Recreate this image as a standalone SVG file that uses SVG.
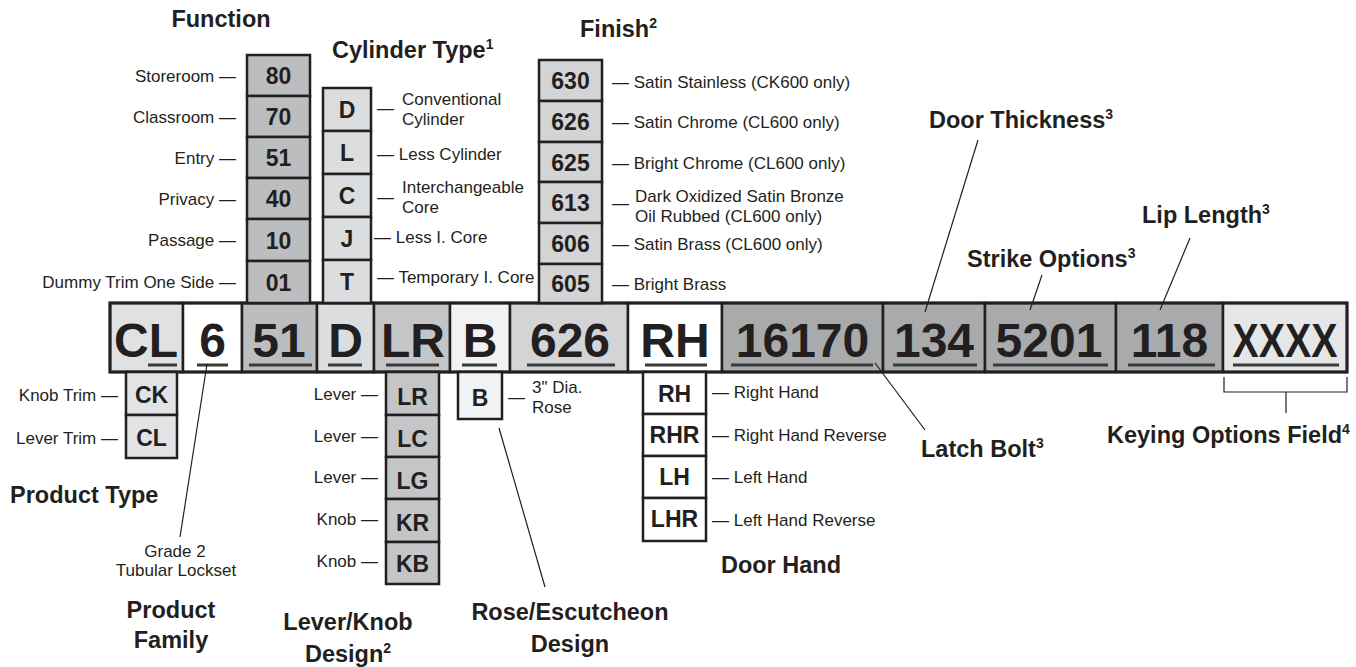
<svg xmlns="http://www.w3.org/2000/svg" width="1356" height="667" viewBox="0 0 1356 667">
<style>
text{font-family:"Liberation Sans",Arial,sans-serif;fill:#231f20}
.t{font-size:23.5px;font-weight:bold}
.lbl{font-size:17px}
.num{font-size:23px;font-weight:bold;text-anchor:middle}
.big{font-size:48px;font-weight:bold;text-anchor:middle}
.cell{stroke:#231f20;stroke-width:2.5}
.ul{fill:#3a3a3a}
.ln{stroke:#231f20;stroke-width:1.2;fill:none}
.sup{font-size:14px}
.end{text-anchor:end}
.mid{text-anchor:middle}
</style>
<rect width="1356" height="667" fill="#fff"/>

<g id="main-bar">
<rect class="cell" x="110" y="303" width="73" height="69" fill="#e0e1e2"/>
<rect class="cell" x="183" y="303" width="59" height="69" fill="#ffffff"/>
<rect class="cell" x="242" y="303" width="75" height="69" fill="#bcbdbf"/>
<rect class="cell" x="317" y="303" width="57" height="69" fill="#dcdddf"/>
<rect class="cell" x="374" y="303" width="76" height="69" fill="#c4c5c7"/>
<rect class="cell" x="450" y="303" width="60" height="69" fill="#f1f2f3"/>
<rect class="cell" x="510" y="303" width="118" height="69" fill="#d3d4d6"/>
<rect class="cell" x="628" y="303" width="94" height="69" fill="#ffffff"/>
<rect class="cell" x="722" y="303" width="161" height="69" fill="#a9aaac"/>
<rect class="cell" x="883" y="303" width="102" height="69" fill="#a9aaac"/>
<rect class="cell" x="985" y="303" width="131" height="69" fill="#a9aaac"/>
<rect class="cell" x="1116" y="303" width="107" height="69" fill="#a9aaac"/>
<rect class="cell" x="1223" y="303" width="124" height="69" fill="#e5e6e7"/>
<rect x="110" y="303" width="1237" height="69" fill="none" stroke="#231f20" stroke-width="3"/>
<text class="big" x="146" y="357">CL</text>
<text class="big" x="212.5" y="357">6</text>
<text class="big" x="279" y="357">51</text>
<text class="big" x="345.5" y="357">D</text>
<text class="big" x="413" y="357">LR</text>
<text class="big" x="480" y="357">B</text>
<text class="big" x="570" y="357">626</text>
<text class="big" x="675" y="357">RH</text>
<text class="big" x="802.5" y="357">16170</text>
<text class="big" x="934" y="357">134</text>
<text class="big" x="1049" y="357">5201</text>
<text class="big" x="1169.5" y="357">118</text>
<text class="big" transform="translate(1285,357) scale(0.82,1)" x="0" y="0">XXXX</text>
<rect class="ul" x="148" y="363.5" width="29" height="3"/>
<rect class="ul" x="197" y="363.5" width="31" height="3"/>
<rect class="ul" x="249" y="363.5" width="63" height="3"/>
<rect class="ul" x="328" y="363.5" width="34" height="3"/>
<rect class="ul" x="386" y="363.5" width="53" height="3"/>
<rect class="ul" x="462" y="363.5" width="35" height="3"/>
<rect class="ul" x="527" y="363.5" width="88" height="3"/>
<rect class="ul" x="645" y="363.5" width="62" height="3"/>
<rect class="ul" x="731" y="363.5" width="142" height="3"/>
<rect class="ul" x="893" y="363.5" width="84" height="3"/>
<rect class="ul" x="993" y="363.5" width="115" height="3"/>
<rect class="ul" x="1128" y="363.5" width="87" height="3"/>
<rect class="ul" x="1233" y="363.5" width="106" height="3"/>
</g>

<g id="function">
<text class="t mid" x="221" y="27">Function</text>
<rect class="cell" x="247" y="55" width="63" height="41" fill="#bcbdbf"/>
<rect class="cell" x="247" y="96" width="63" height="41" fill="#bcbdbf"/>
<rect class="cell" x="247" y="137" width="63" height="41" fill="#bcbdbf"/>
<rect class="cell" x="247" y="178" width="63" height="41" fill="#bcbdbf"/>
<rect class="cell" x="247" y="219" width="63" height="42" fill="#bcbdbf"/>
<rect class="cell" x="247" y="261" width="63" height="42" fill="#bcbdbf"/>
<text class="num" x="278.5" y="84">80</text>
<text class="num" x="278.5" y="125">70</text>
<text class="num" x="278.5" y="166">51</text>
<text class="num" x="278.5" y="207">40</text>
<text class="num" x="278.5" y="248.5">10</text>
<text class="num" x="278.5" y="290.5">01</text>
<text class="lbl end" x="236" y="82">Storeroom —</text>
<text class="lbl end" x="236" y="123">Classroom —</text>
<text class="lbl end" x="236" y="164">Entry —</text>
<text class="lbl end" x="236" y="205">Privacy —</text>
<text class="lbl end" x="236" y="246">Passage —</text>
<text class="lbl end" x="236" y="288">Dummy Trim One Side —</text>
</g>

<g id="cylinder-type">
<text class="t" x="332" y="58">Cylinder Type<tspan class="sup" dy="-9">1</tspan></text>
<rect class="cell" x="323" y="88" width="48" height="43" fill="#dcdddf"/>
<rect class="cell" x="323" y="131" width="48" height="43" fill="#dcdddf"/>
<rect class="cell" x="323" y="174" width="48" height="43" fill="#dcdddf"/>
<rect class="cell" x="323" y="217" width="48" height="43" fill="#dcdddf"/>
<rect class="cell" x="323" y="260" width="48" height="43" fill="#dcdddf"/>
<text class="num" x="347" y="118">D</text>
<text class="num" x="347" y="161">L</text>
<text class="num" x="347" y="204">C</text>
<text class="num" x="347" y="247">J</text>
<text class="num" x="347" y="290">T</text>
<text class="lbl" x="377" y="114">—</text>
<text class="lbl" x="402" y="105">Conventional</text>
<text class="lbl" x="402" y="125">Cylinder</text>
<text class="lbl" x="377" y="160">— Less Cylinder</text>
<text class="lbl" x="377" y="203">—</text>
<text class="lbl" x="402" y="193">Interchangeable</text>
<text class="lbl" x="402" y="213">Core</text>
<text class="lbl" x="374" y="243">— Less I. Core</text>
<text class="lbl" x="377" y="283">— Temporary I. Core</text>
</g>

<g id="finish">
<text class="t" x="580" y="37">Finish<tspan class="sup" dy="-9">2</tspan></text>
<rect class="cell" x="539" y="60" width="63" height="41" fill="#d3d4d6"/>
<rect class="cell" x="539" y="101" width="63" height="41" fill="#d3d4d6"/>
<rect class="cell" x="539" y="142" width="63" height="40" fill="#d3d4d6"/>
<rect class="cell" x="539" y="182" width="63" height="41" fill="#d3d4d6"/>
<rect class="cell" x="539" y="223" width="63" height="41" fill="#d3d4d6"/>
<rect class="cell" x="539" y="264" width="63" height="39" fill="#d3d4d6"/>
<text class="num" x="570.5" y="89">630</text>
<text class="num" x="570.5" y="130">626</text>
<text class="num" x="570.5" y="170.5">625</text>
<text class="num" x="570.5" y="211">613</text>
<text class="num" x="570.5" y="252">606</text>
<text class="num" x="570.5" y="292">605</text>
<text class="lbl" x="612" y="88">— Satin Stainless (CK600 only)</text>
<text class="lbl" x="612" y="128">— Satin Chrome (CL600 only)</text>
<text class="lbl" x="612" y="168.5">— Bright Chrome (CL600 only)</text>
<text class="lbl" x="612" y="209">—</text>
<text class="lbl" x="635" y="202">Dark Oxidized Satin Bronze</text>
<text class="lbl" x="635" y="222">Oil Rubbed (CL600 only)</text>
<text class="lbl" x="612" y="250">— Satin Brass (CL600 only)</text>
<text class="lbl" x="612" y="290">— Bright Brass</text>
</g>

<g id="product-type">
<rect class="cell" x="126" y="372" width="51" height="43" fill="#e2e3e4"/>
<rect class="cell" x="126" y="415" width="51" height="43" fill="#e2e3e4"/>
<text class="num" x="151.5" y="403">CK</text>
<text class="num" x="151.5" y="446">CL</text>
<text class="lbl end" x="118" y="401">Knob Trim —</text>
<text class="lbl end" x="118" y="444">Lever Trim —</text>
<text class="t" x="10" y="503">Product Type</text>
</g>

<g id="product-family">
<text class="lbl mid" x="175" y="557">Grade 2</text>
<text class="lbl mid" x="176" y="576">Tubular Lockset</text>
<text class="t mid" x="171" y="618">Product</text>
<text class="t mid" x="171" y="648">Family</text>
</g>

<g id="lever-knob-design">
<rect class="cell" x="386" y="372" width="53" height="43" fill="#c4c5c7"/>
<rect class="cell" x="386" y="415" width="53" height="42" fill="#c4c5c7"/>
<rect class="cell" x="386" y="457" width="53" height="42" fill="#c4c5c7"/>
<rect class="cell" x="386" y="499" width="53" height="43" fill="#c4c5c7"/>
<rect class="cell" x="386" y="542" width="53" height="42" fill="#c4c5c7"/>
<text class="num" x="412.5" y="405">LR</text>
<text class="num" x="412.5" y="447">LC</text>
<text class="num" x="412.5" y="489">LG</text>
<text class="num" x="412.5" y="530.5">KR</text>
<text class="num" x="412.5" y="572">KB</text>
<text class="lbl end" x="378" y="400">Lever —</text>
<text class="lbl end" x="378" y="442">Lever —</text>
<text class="lbl end" x="378" y="483">Lever —</text>
<text class="lbl end" x="378" y="525">Knob —</text>
<text class="lbl end" x="378" y="567">Knob —</text>
<text class="t mid" x="348" y="630">Lever/Knob</text>
<text class="t mid" x="348" y="662">Design<tspan class="sup" dy="-9">2</tspan></text>
</g>

<g id="rose-design">
<rect class="cell" x="458" y="372" width="44" height="47" fill="#f1f2f3"/>
<text class="num" x="480" y="406">B</text>
<text class="lbl" x="508" y="403">—</text>
<text class="lbl" x="532" y="393">3" Dia.</text>
<text class="lbl" x="532" y="413">Rose</text>
<text class="t mid" x="570" y="620">Rose/Escutcheon</text>
<text class="t mid" x="570" y="652">Design</text>
</g>

<g id="door-hand">
<rect class="cell" x="643" y="372" width="63" height="42" fill="#ffffff"/>
<rect class="cell" x="643" y="414" width="63" height="42" fill="#ffffff"/>
<rect class="cell" x="643" y="456" width="63" height="42" fill="#ffffff"/>
<rect class="cell" x="643" y="498" width="63" height="43" fill="#ffffff"/>
<text class="num" x="674.5" y="402">RH</text>
<text class="num" x="674.5" y="443">RHR</text>
<text class="num" x="674.5" y="485">LH</text>
<text class="num" x="674.5" y="527">LHR</text>
<text class="lbl" x="712" y="398">— Right Hand</text>
<text class="lbl" x="712" y="441">— Right Hand Reverse</text>
<text class="lbl" x="712" y="483">— Left Hand</text>
<text class="lbl" x="712" y="526">— Left Hand Reverse</text>
<text class="t mid" x="781" y="573">Door Hand</text>
</g>

<g id="latch-bolt"><text class="t" x="921" y="457">Latch Bolt<tspan class="sup" dy="-9">3</tspan></text></g>
<g id="door-thickness"><text class="t" x="929" y="128">Door Thickness<tspan class="sup" dy="-9">3</tspan></text></g>
<g id="strike-options"><text class="t" x="967" y="267">Strike Options<tspan class="sup" dy="-9">3</tspan></text></g>
<g id="lip-length"><text class="t" x="1142" y="223">Lip Length<tspan class="sup" dy="-9">3</tspan></text></g>
<g id="keying-options"><text class="t" x="1107" y="443">Keying Options Field<tspan class="sup" dy="-9">4</tspan></text></g>

<g id="connectors">
<line class="ln" x1="207" y1="364" x2="180" y2="537"/>
<line class="ln" x1="499" y1="428" x2="545" y2="587"/>
<line class="ln" x1="875" y1="363" x2="925" y2="430"/>
<line class="ln" x1="978" y1="140" x2="925" y2="312"/>
<line class="ln" x1="1042" y1="275" x2="1030" y2="310"/>
<line class="ln" x1="1190" y1="238" x2="1160" y2="310"/>
<path class="ln" d="M1224,377 V392 H1347 V377 M1286,392 V413"/>
</g>
</svg>
